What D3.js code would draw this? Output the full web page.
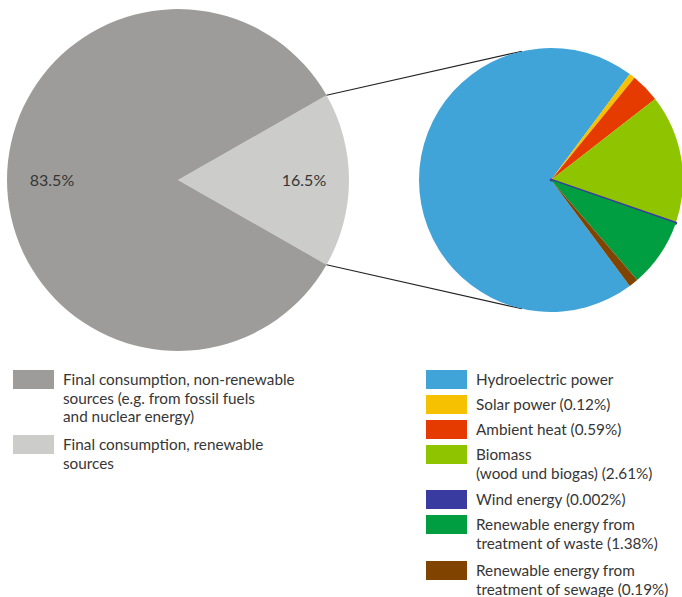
<!DOCTYPE html>
<html>
<head>
<meta charset="utf-8">
<script src="https://cdn.jsdelivr.net/npm/d3@7/dist/d3.min.js"></script>
<style>
  html, body { margin: 0; padding: 0; background: #fff; }
  svg { display: block; }
  text { font-family: Lato, "Noto Sans", sans-serif; fill: #363636; }
</style>
</head>
<body>
<svg id="chart" width="682" height="597"></svg>
<script>
// Share of final energy consumption (%)
const mainCategories = ["Final consumption, renewable sources", "Final consumption, non-renewable sources"];
const mainValues = [16.5, 83.5];
const mainLabels = ["16.5%", "83.5%"];
const mainColors = ["#cccccb", "#9d9c9a"];

// Breakdown of renewable sources (% of total final consumption)
const renewCategories = ["Hydroelectric power", "Solar power", "Ambient heat", "Biomass", "Wind energy",
  "Renewable energy from treatment of waste", "Renewable energy from treatment of sewage"];
const renewValues = [11.608, 0.12, 0.59, 2.61, 0.002, 1.38, 0.19];
const renewColors = ["#40a4d8", "#f6c100", "#e53b00", "#8fc400", "#3a3ba0", "#009e40", "#804400"];

// Legend texts
const mainLegend = [
  ["Final consumption, non-renewable", "sources (e.g. from fossil fuels", "and nuclear energy)"],
  ["Final consumption, renewable", "sources"]
];
const mainLegendColors = ["#9d9c9a", "#cccccb"];
const renewLegend = [
  ["Hydroelectric power"],
  ["Solar power (0.12%)"],
  ["Ambient heat (0.59%)"],
  ["Biomass", "(wood und biogas) (2.61%)"],
  ["Wind energy (0.002%)"],
  ["Renewable energy from", "treatment of waste (1.38%)"],
  ["Renewable energy from", "treatment of sewage (0.19%)"]
];

const svg = d3.select("#chart");

// ---- main pie ----
const mc = { x: 178, y: 180, r: 171 };
const mainTotal = d3.sum(mainValues);
const renAngle = mainValues[0] / mainTotal * 2 * Math.PI;
const mainPie = d3.pie().sort(null).value(d => d)
  .startAngle(Math.PI / 2 - renAngle / 2)
  .endAngle(Math.PI / 2 - renAngle / 2 + 2 * Math.PI);
const mainArcs = mainPie(mainValues);
const mainArc = d3.arc().innerRadius(0).outerRadius(mc.r);
const gMain = svg.append("g").attr("transform", `translate(${mc.x},${mc.y})`);
gMain.selectAll("path").data(mainArcs).join("path")
  .attr("d", mainArc).attr("fill", (d, i) => mainColors[i]);
const labelArc = d3.arc().innerRadius(126).outerRadius(126);
gMain.selectAll("text").data(mainArcs).join("text")
  .attr("transform", d => `translate(${labelArc.centroid(d)})`)
  .attr("text-anchor", "middle").attr("dy", "0.35em")
  .style("font-size", "16px")
  .text((d, i) => mainLabels[i]);

// ---- renewable breakdown pie ----
const rc = { x: 551, y: 180, r: 132 };
const renTotal = d3.sum(renewValues);
const hydroAngle = renewValues[0] / renTotal * 2 * Math.PI;
const rStart = -Math.PI / 2 - hydroAngle / 2;
const renPie = d3.pie().sort(null).value(d => d)
  .startAngle(rStart).endAngle(rStart + 2 * Math.PI);
const renArcs = renPie(renewValues);
const renArc = d3.arc().innerRadius(0).outerRadius(rc.r);
const gRen = svg.append("g").attr("transform", `translate(${rc.x},${rc.y})`);
gRen.selectAll("path").data(renArcs).join("path")
  .attr("d", renArc)
  .attr("fill", (d, i) => renewColors[i])
  .attr("stroke", (d, i) => renewValues[i] < 0.01 ? renewColors[i] : "none")
  .attr("stroke-width", 2.8)
  .attr("stroke-linejoin", "round");

// ---- connector lines: from slice edge to tangent on the breakdown pie ----
function polar(cx, cy, r, a) { return [cx + r * Math.sin(a), cy - r * Math.cos(a)]; }
const edgeTop = polar(mc.x, mc.y, mc.r, mainArcs[0].startAngle);
const edgeBot = polar(mc.x, mc.y, mc.r, mainArcs[0].endAngle);
function tangent(p, sign) {
  const dx = p[0] - rc.x, dy = p[1] - rc.y;
  const d = Math.hypot(dx, dy);
  const base = Math.atan2(dy, dx);
  const a = base + sign * Math.acos(rc.r / d);
  return [rc.x + rc.r * Math.cos(a), rc.y + rc.r * Math.sin(a)];
}
const tTop = tangent(edgeTop, 1);
const tBot = tangent(edgeBot, -1);
svg.append("line").attr("x1", edgeTop[0]).attr("y1", edgeTop[1])
  .attr("x2", tTop[0]).attr("y2", tTop[1])
  .attr("stroke", "#222").attr("stroke-width", 1.1);
svg.append("line").attr("x1", edgeBot[0]).attr("y1", edgeBot[1])
  .attr("x2", tBot[0]).attr("y2", tBot[1])
  .attr("stroke", "#222").attr("stroke-width", 1.1);
// keep the breakdown pie above the line ends
gRen.raise();

// ---- legends ----
function legend(x, items, colors, tops) {
  const g = svg.append("g");
  items.forEach((lines, i) => {
    const y = tops[i];
    g.append("rect").attr("x", x).attr("y", y).attr("width", 41).attr("height", 19)
      .attr("fill", colors[i]);
    const t = g.append("text").attr("x", x + 50).attr("y", y + 15).style("font-size", "15.3px");
    lines.forEach((ln, j) => {
      t.append("tspan").attr("x", x + 50).attr("dy", j === 0 ? 0 : 18.7).text(ln);
    });
  });
}
legend(13, mainLegend, mainLegendColors, [370, 435]);
legend(426, renewLegend, renewColors, [370, 395, 420, 445, 490, 515, 561]);
</script>
</body>
</html>
